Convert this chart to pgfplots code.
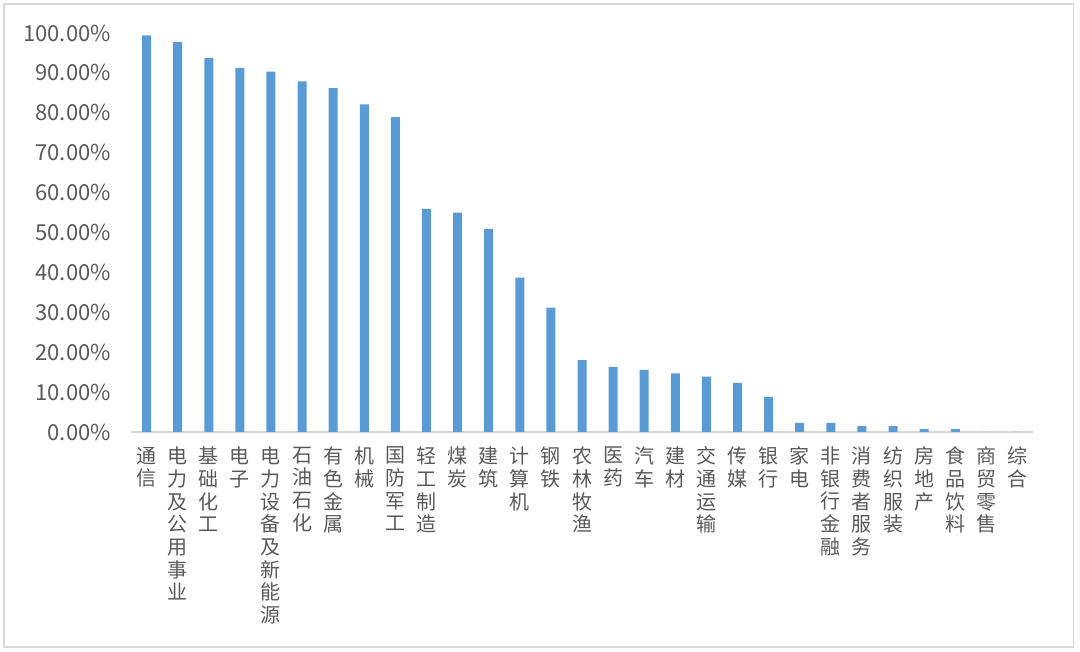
\documentclass[border=0pt]{standalone}
\usepackage{pgfplots}
\pgfplotsset{compat=1.18}
\usepackage{fontspec}
\setmainfont{Noto Sans CJK SC}
\definecolor{barblue}{HTML}{5B9BD5}
\definecolor{txtgray}{HTML}{595959}
\definecolor{axgray}{HTML}{D9D9D9}
\begin{document}
\begin{tikzpicture}
\useasboundingbox (0,0) rectangle (810pt,489pt);
\draw[axgray, line width=1.2pt] (3pt,3.75pt) rectangle (805pt,486pt);
\begin{axis}[
  at={(98.25pt,165pt)}, anchor=south west,
  scale only axis,
  width=676.5pt, height=299.25pt,
  xmin=-0.5, xmax=28.5, ymin=0, ymax=100,
  axis y line*=left,
  y axis line style={draw=none},
  axis x line*=bottom,
  x axis line style={axgray, line width=1pt, -},
  xtick=data,
  xticklabels={{通\\信},{电\\力\\及\\公\\用\\事\\业},{基\\础\\化\\工},{电\\子},{电\\力\\设\\备\\及\\新\\能\\源},{石\\油\\石\\化},{有\\色\\金\\属},{机\\械},{国\\防\\军\\工},{轻\\工\\制\\造},{煤\\炭},{建\\筑},{计\\算\\机},{钢\\铁},{农\\林\\牧\\渔},{医\\药},{汽\\车},{建\\材},{交\\通\\运\\输},{传\\媒},{银\\行},{家\\电},{非\\银\\行\\金\\融},{消\\费\\者\\服\\务},{纺\\织\\服\\装},{房\\地\\产},{食\\品\\饮\\料},{商\\贸\\零\\售},{综\\合}},
  xticklabel style={align=center, anchor=north, inner sep=0pt, font=\fontsize{15pt}{17pt}\selectfont, text=txtgray, yshift=-11pt},
  xtick style={draw=none},
  ytick={0,10,...,100},
  yticklabel={\pgfmathprintnumber[fixed,fixed zerofill,precision=2]{\tick}\%},
  /pgf/number format/assume math mode=true,
  yticklabel style={anchor=east, inner sep=0pt, xshift=-15pt, font=\fontsize{16.5pt}{18pt}\selectfont, text=txtgray},
  ytick style={draw=none},
]
\addplot[ybar, bar width=6.75pt, fill=barblue, draw=none] coordinates {
(0,99.4) (1,97.7) (2,93.7) (3,91.2) (4,90.3) (5,87.9) (6,86.2) (7,82.1) (8,78.9)
(9,55.9) (10,55.0) (11,50.9) (12,38.7) (13,31.2) (14,18.0) (15,16.3) (16,15.6)
(17,14.7) (18,13.9) (19,12.3) (20,8.8) (21,2.3) (22,2.3) (23,1.5) (24,1.5)
(25,0.7) (26,0.7) (27,0) (28,0)
};
\end{axis}
\end{tikzpicture}
\end{document}
